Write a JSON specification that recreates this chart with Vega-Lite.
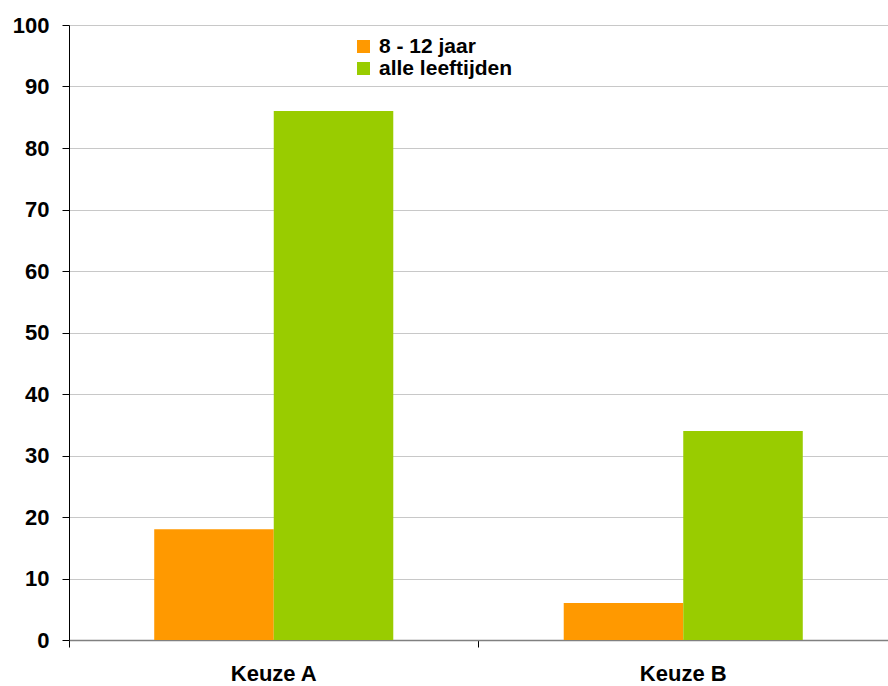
{
  "$schema": "https://vega.github.io/schema/vega-lite/v6.json",
  "autosize": {"type": "none"},
  "width": 819,
  "height": 615,
  "padding": {"left": 69, "top": 25, "right": 0, "bottom": 46},
  "background": "white",
  "data": {
    "values": [
      {"keuze": "Keuze A", "groep": "8 - 12 jaar", "waarde": 18},
      {"keuze": "Keuze A", "groep": "alle leeftijden", "waarde": 86},
      {"keuze": "Keuze B", "groep": "8 - 12 jaar", "waarde": 6},
      {"keuze": "Keuze B", "groep": "alle leeftijden", "waarde": 34}
    ]
  },
  "config": {
    "view": {"stroke": null},
    "font": "Liberation Sans"
  },
  "mark": {"type": "bar"},
  "encoding": {
    "x": {
      "field": "keuze",
      "type": "nominal",
      "scale": {"paddingInner": 0, "paddingOuter": 0},
      "axis": {
        "title": null,
        "labelAngle": 0,
        "bandPosition": 0,
        "labelFont": "Liberation Sans",
        "labelFontSize": 22,
        "labelFontWeight": "bold",
        "labelColor": "black",
        "labelPadding": 16,
        "tickColor": "black",
        "tickSize": 7,
        "domainColor": "#808080",
        "domainWidth": 1.5,
        "grid": false
      }
    },
    "xOffset": {
      "field": "groep",
      "type": "nominal",
      "scale": {"paddingInner": 0, "paddingOuter": 0.713}
    },
    "y": {
      "field": "waarde",
      "type": "quantitative",
      "scale": {"domain": [0, 100], "nice": false},
      "axis": {
        "title": null,
        "values": [0, 10, 20, 30, 40, 50, 60, 70, 80, 90, 100],
        "labelFont": "Liberation Sans",
        "labelFontSize": 22,
        "labelFontWeight": "bold",
        "labelColor": "black",
        "labelPadding": 13,
        "tickColor": "black",
        "tickSize": 7,
        "domainColor": "black",
        "gridColor": "#c8c8c8",
        "gridWidth": 1
      }
    },
    "color": {
      "field": "groep",
      "type": "nominal",
      "scale": {"domain": ["8 - 12 jaar", "alle leeftijden"], "range": ["#FF9900", "#99CC00"]},
      "legend": {
        "title": null,
        "orient": "none",
        "legendX": 284,
        "legendY": 11,
        "symbolType": "square",
        "symbolSize": 169,
        "symbolStrokeWidth": 0,
        "labelFont": "Liberation Sans",
        "labelFontSize": 21,
        "labelFontWeight": "bold",
        "labelColor": "black",
        "labelOffset": 5,
        "rowPadding": 0,
        "labelLimit": 400
      }
    }
  }
}
